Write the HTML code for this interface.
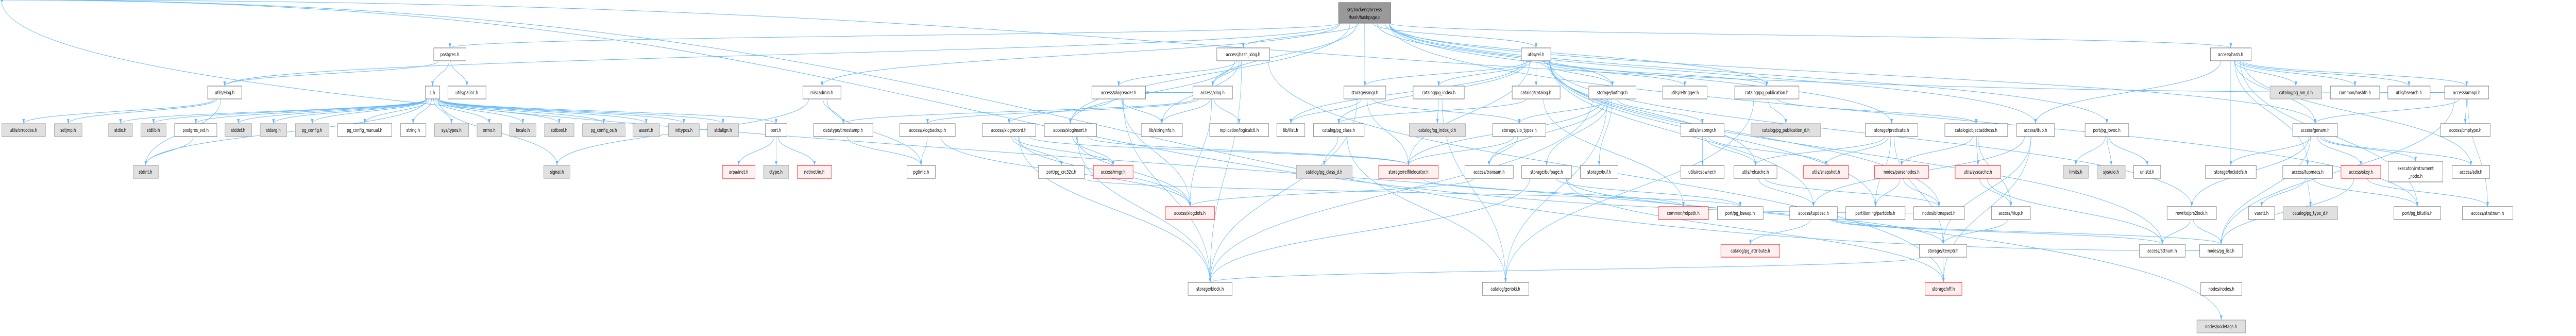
<!DOCTYPE html>
<html><head><meta charset="utf-8"><style>
html,body{margin:0;padding:0;background:#fff;width:100%;height:100%;overflow:hidden;}
svg{display:block;width:100vw;height:100vh;}
text{font-family:"DejaVu Sans","Liberation Sans",sans-serif;font-size:10px;fill:#000;text-anchor:middle;}
.w{fill:#fff;stroke:#666;stroke-width:1;}
.g{fill:#e0e0e0;stroke:#999;stroke-width:1;}
.r{fill:#fff0f0;stroke:#f00;stroke-width:1;}
.t{fill:#999;stroke:#666;stroke-width:1;}
#edges path{fill:none;stroke:#63b8ff;stroke-width:1;}
</style></head><body>
<svg id="s" viewBox="0 0 7257 652" preserveAspectRatio="none" xmlns="http://www.w3.org/2000/svg">
<defs><marker id="a" viewBox="0 0 10 10" refX="10" refY="5" markerWidth="9" markerHeight="9" orient="auto" markerUnits="userSpaceOnUse"><path d="M0,1 L10,5 L0,9 z" fill="#63b8ff"/></marker></defs>
<g id="edges"></g>
<g id="nodes">
<rect id="hp" class="t" x="3771" y="5" width="147" height="40"/>
<text x="3844" y="22">src/backend/access</text><text x="3844" y="37">/hash/hashpage.c</text>

<rect id="postgres" class="w" x="1222" y="93" width="91" height="25"/><text x="1267" y="109">postgres.h</text>
<rect id="hashxlog" class="w" x="3428" y="93" width="149" height="25"/><text x="3502" y="109">access/hash_xlog.h</text>
<rect id="rel" class="w" x="4286" y="93" width="83" height="25"/><text x="4327" y="109">utils/rel.h</text>
<rect id="hash" class="w" x="6227" y="93" width="115" height="25"/><text x="6284" y="109">access/hash.h</text>

<rect id="elog" class="w" x="585" y="167" width="96" height="25"/><text x="633" y="183">utils/elog.h</text>
<rect id="ch" class="w" x="1198" y="167" width="41" height="25"/><text x="1218" y="183">c.h</text>
<rect id="palloc" class="w" x="1262" y="167" width="107" height="25"/><text x="1315" y="183">utils/palloc.h</text>
<rect id="misc" class="w" x="2262" y="167" width="107" height="25"/><text x="2315" y="183">miscadmin.h</text>
<rect id="xlogreader" class="w" x="3076" y="167" width="151" height="25"/><text x="3151" y="183">access/xlogreader.h</text>
<rect id="xlog" class="w" x="3361" y="167" width="111" height="25"/><text x="3416" y="183">access/xlog.h</text>
<rect id="smgr" class="w" x="3786" y="167" width="118" height="25"/><text x="3845" y="183">storage/smgr.h</text>
<rect id="pgindex" class="w" x="3981" y="167" width="144" height="25"/><text x="4053" y="183">catalog/pg_index.h</text>
<rect id="catalog" class="w" x="4260" y="167" width="135" height="25"/><text x="4327" y="183">catalog/catalog.h</text>
<rect id="bufmgr" class="w" x="4476" y="167" width="133" height="25"/><text x="4542" y="183">storage/bufmgr.h</text>
<rect id="reltrig" class="w" x="4684" y="167" width="125" height="25"/><text x="4746" y="183">utils/reltrigger.h</text>
<rect id="pgpub" class="w" x="4887" y="167" width="181" height="25"/><text x="4977" y="183">catalog/pg_publication.h</text>
<rect id="pgamd" class="g" x="6395" y="167" width="146" height="25"/><text x="6468" y="183">catalog/pg_am_d.h</text>
<rect id="hashfn" class="w" x="6565" y="167" width="139" height="25"/><text x="6634" y="183">common/hashfn.h</text>
<rect id="hsearch" class="w" x="6727" y="167" width="119" height="25"/><text x="6786" y="183">utils/hsearch.h</text>
<rect id="amapi" class="w" x="6887" y="167" width="124" height="25"/><text x="6949" y="183">access/amapi.h</text>

<rect id="errcodes" class="g" x="5" y="240" width="123" height="25"/><text x="66" y="256">utils/errcodes.h</text>
<rect id="setjmp" class="g" x="153" y="240" width="78" height="25"/><text x="192" y="256">setjmp.h</text>
<rect id="stdio" class="g" x="306" y="240" width="67" height="25"/><text x="339" y="256">stdio.h</text>
<rect id="stdlib" class="g" x="397" y="240" width="71" height="25"/><text x="432" y="256">stdlib.h</text>
<rect id="pgext" class="w" x="492" y="240" width="119" height="25"/><text x="551" y="256">postgres_ext.h</text>
<rect id="stddef" class="g" x="634" y="240" width="75" height="25"/><text x="671" y="256">stddef.h</text>
<rect id="stdarg" class="g" x="733" y="240" width="75" height="25"/><text x="770" y="256">stdarg.h</text>
<rect id="pgconfig" class="g" x="832" y="240" width="95" height="25"/><text x="879" y="256">pg_config.h</text>
<rect id="pgcm" class="w" x="951" y="240" width="153" height="25"/><text x="1027" y="256">pg_config_manual.h</text>
<rect id="string" class="w" x="1128" y="240" width="72" height="25"/><text x="1164" y="256">string.h</text>
<rect id="systypes" class="g" x="1224" y="240" width="96" height="25"/><text x="1272" y="256">sys/types.h</text>
<rect id="errno" class="g" x="1344" y="240" width="69" height="25"/><text x="1378" y="256">errno.h</text>
<rect id="locale" class="g" x="1436" y="240" width="74" height="25"/><text x="1473" y="256">locale.h</text>
<rect id="stdbool" class="g" x="1534" y="240" width="83" height="25"/><text x="1575" y="256">stdbool.h</text>
<rect id="pgcos" class="g" x="1641" y="240" width="120" height="25"/><text x="1701" y="256">pg_config_os.h</text>
<rect id="assert" class="g" x="1783" y="240" width="75" height="25"/><text x="1820" y="256">assert.h</text>
<rect id="inttypes" class="g" x="1883" y="240" width="87" height="25"/><text x="1926" y="256">inttypes.h</text>
<rect id="stdalign" class="g" x="1993" y="240" width="88" height="25"/><text x="2037" y="256">stdalign.h</text>
<rect id="port" class="w" x="2156" y="240" width="61" height="25"/><text x="2186" y="256">port.h</text>
<rect id="timestamp" class="w" x="2292" y="240" width="167" height="25"/><text x="2375" y="256">datatype/timestamp.h</text>
<rect id="xlogbackup" class="w" x="2535" y="240" width="156" height="25"/><text x="2613" y="256">access/xlogbackup.h</text>
<rect id="xlogrecord" class="w" x="2767" y="240" width="151" height="25"/><text x="2842" y="256">access/xlogrecord.h</text>
<rect id="xloginsert" class="w" x="2942" y="240" width="147" height="25"/><text x="3015" y="256">access/xloginsert.h</text>
<rect id="stringinfo" class="w" x="3215" y="240" width="116" height="25"/><text x="3273" y="256">lib/stringinfo.h</text>
<rect id="logicalctl" class="w" x="3408" y="240" width="166" height="25"/><text x="3491" y="256">replication/logicalctl.h</text>
<rect id="ilist" class="w" x="3597" y="240" width="79" height="25"/><text x="3636" y="256">lib/ilist.h</text>
<rect id="pgclass" class="w" x="3700" y="240" width="143" height="25"/><text x="3771" y="256">catalog/pg_class.h</text>
<rect id="pgindexd" class="g" x="3970" y="240" width="159" height="25"/><text x="4049" y="256">catalog/pg_index_d.h</text>
<rect id="aio" class="w" x="4205" y="240" width="150" height="25"/><text x="4280" y="256">storage/aio_types.h</text>
<rect id="snapmgr" class="w" x="4735" y="240" width="122" height="25"/><text x="4796" y="256">utils/snapmgr.h</text>
<rect id="pgpubd" class="g" x="4933" y="240" width="196" height="25"/><text x="5031" y="256">catalog/pg_publication_d.h</text>
<rect id="predicate" class="w" x="5255" y="240" width="148" height="25"/><text x="5329" y="256">storage/predicate.h</text>
<rect id="objaddr" class="w" x="5479" y="240" width="177" height="25"/><text x="5567" y="256">catalog/objectaddress.h</text>
<rect id="itup" class="w" x="5681" y="240" width="107" height="25"/><text x="5734" y="256">access/itup.h</text>
<rect id="iovec" class="w" x="5874" y="240" width="123" height="25"/><text x="5935" y="256">port/pg_iovec.h</text>
<rect id="genam" class="w" x="6459" y="240" width="126" height="25"/><text x="6522" y="256">access/genam.h</text>
<rect id="cmptype" class="w" x="6875" y="240" width="140" height="25"/><text x="6945" y="256">access/cmptype.h</text>

<rect id="stdint" class="g" x="375" y="321" width="71" height="25"/><text x="410" y="337">stdint.h</text>
<rect id="signal" class="g" x="1532" y="321" width="74" height="25"/><text x="1569" y="337">signal.h</text>
<rect id="arpa" class="r" x="2035" y="321" width="92" height="25"/><text x="2081" y="337">arpa/inet.h</text>
<rect id="ctype" class="g" x="2151" y="321" width="71" height="25"/><text x="2186" y="337">ctype.h</text>
<rect id="netinet" class="r" x="2246" y="321" width="97" height="25"/><text x="2294" y="337">netinet/in.h</text>
<rect id="pgtime" class="w" x="2555" y="321" width="80" height="25"/><text x="2595" y="337">pgtime.h</text>
<rect id="crc" class="w" x="2925" y="321" width="130" height="25"/><text x="2990" y="337">port/pg_crc32c.h</text>
<rect id="rmgr" class="r" x="3080" y="321" width="112" height="25"/><text x="3136" y="337">access/rmgr.h</text>
<rect id="pgclassd" class="g" x="3652" y="321" width="157" height="25"/><text x="3730" y="337">catalog/pg_class_d.h</text>
<rect id="relfile" class="r" x="3884" y="321" width="168" height="25"/><text x="3968" y="337">storage/relfilelocator.h</text>
<rect id="transam" class="w" x="4127" y="321" width="136" height="25"/><text x="4195" y="337">access/transam.h</text>
<rect id="bufpage" class="w" x="4287" y="321" width="140" height="25"/><text x="4357" y="337">storage/bufpage.h</text>
<rect id="buf" class="w" x="4452" y="321" width="106" height="25"/><text x="4505" y="337">storage/buf.h</text>
<rect id="resowner" class="w" x="4735" y="321" width="122" height="25"/><text x="4796" y="337">utils/resowner.h</text>
<rect id="relcache" class="w" x="4885" y="321" width="121" height="25"/><text x="4945" y="337">utils/relcache.h</text>
<rect id="snapshot" class="r" x="5081" y="321" width="126" height="25"/><text x="5144" y="337">utils/snapshot.h</text>
<rect id="parsenodes" class="r" x="5281" y="321" width="152" height="25"/><text x="5357" y="337">nodes/parsenodes.h</text>
<rect id="syscache" class="r" x="5508" y="321" width="128" height="25"/><text x="5572" y="337">utils/syscache.h</text>
<rect id="limits" class="g" x="5813" y="321" width="70" height="25"/><text x="5848" y="337">limits.h</text>
<rect id="uio" class="g" x="5908" y="321" width="79" height="25"/><text x="5947" y="337">sys/uio.h</text>
<rect id="unistd" class="w" x="6011" y="321" width="76" height="25"/><text x="6049" y="337">unistd.h</text>
<rect id="lockdefs" class="w" x="6213" y="321" width="143" height="25"/><text x="6284" y="337">storage/lockdefs.h</text>
<rect id="tupmacs" class="w" x="6431" y="321" width="140" height="25"/><text x="6501" y="337">access/tupmacs.h</text>
<rect id="skey" class="r" x="6595" y="321" width="112" height="25"/><text x="6651" y="337">access/skey.h</text>
<rect id="instr" class="w" x="6728" y="313" width="154" height="40"/><text x="6805" y="330">executor/instrument</text><text x="6805" y="345">_node.h</text>
<rect id="sdir" class="w" x="6908" y="321" width="106" height="25"/><text x="6961" y="337">access/sdir.h</text>

<rect id="xlogdefs" class="r" x="3283" y="401" width="139" height="25"/><text x="3352" y="417">access/xlogdefs.h</text>
<rect id="relpath" class="r" x="4672" y="401" width="141" height="25"/><text x="4742" y="417">common/relpath.h</text>
<rect id="bswap" class="w" x="4838" y="401" width="129" height="25"/><text x="4902" y="417">port/pg_bswap.h</text>
<rect id="tupdesc" class="w" x="5042" y="401" width="134" height="25"/><text x="5109" y="417">access/tupdesc.h</text>
<rect id="partdefs" class="w" x="5200" y="401" width="167" height="25"/><text x="5283" y="417">partitioning/partdefs.h</text>
<rect id="bitmapset" class="w" x="5391" y="401" width="143" height="25"/><text x="5462" y="417">nodes/bitmapset.h</text>
<rect id="htup" class="w" x="5610" y="401" width="110" height="25"/><text x="5665" y="417">access/htup.h</text>
<rect id="prs2lock" class="w" x="6105" y="401" width="139" height="25"/><text x="6174" y="417">rewrite/prs2lock.h</text>
<rect id="varatt" class="w" x="6335" y="401" width="73" height="25"/><text x="6371" y="417">varatt.h</text>
<rect id="pgtyped" class="g" x="6432" y="401" width="154" height="25"/><text x="6509" y="417">catalog/pg_type_d.h</text>
<rect id="bitutils" class="w" x="6744" y="401" width="132" height="25"/><text x="6810" y="417">port/pg_bitutils.h</text>
<rect id="stratnum" class="w" x="6937" y="401" width="142" height="25"/><text x="7008" y="417">access/stratnum.h</text>

<rect id="pgattr" class="r" x="4848" y="474" width="166" height="25"/><text x="4931" y="490">catalog/pg_attribute.h</text>
<rect id="itemptr" class="w" x="5407" y="474" width="134" height="25"/><text x="5474" y="490">storage/itemptr.h</text>
<rect id="attnum" class="w" x="6027" y="474" width="129" height="25"/><text x="6091" y="490">access/attnum.h</text>
<rect id="pglist" class="w" x="6197" y="474" width="121" height="25"/><text x="6257" y="490">nodes/pg_list.h</text>

<rect id="block" class="w" x="3347" y="548" width="124" height="25"/><text x="3409" y="564">storage/block.h</text>
<rect id="genbki" class="w" x="4176" y="548" width="131" height="25"/><text x="4241" y="564">catalog/genbki.h</text>
<rect id="off" class="r" x="5423" y="548" width="104" height="25"/><text x="5475" y="564">storage/off.h</text>
<rect id="nodes" class="w" x="6200" y="548" width="116" height="25"/><text x="6258" y="564">nodes/nodes.h</text>

<rect id="nodetags" class="g" x="6189" y="621" width="137" height="25"/><text x="6257" y="637">nodes/nodetags.h</text>
</g>
</svg>
<script>
(function(){
var E="hp>postgres hp>hash hp>hashxlog hp>misc hp>rel hp>smgr hp>predicate hp>bufmgr hp>xlog hp>xloginsert hp>genam hp>pgpub hp>itup hp>iovec hp>bitutils hp>elog "+
"postgres>ch postgres>palloc postgres>elog elog>errcodes elog>setjmp elog>stdint "+
"ch>stdio ch>stdlib ch>pgext ch>stddef ch>stdarg ch>pgconfig ch>pgcm ch>string ch>systypes ch>errno ch>locale ch>stdbool ch>pgcos ch>assert ch>inttypes ch>stdalign ch>port ch>stdint ch>signal "+
"pgext>stdint port>arpa port>ctype port>netinet misc>signal misc>timestamp misc>pgtime timestamp>pgtime "+
"hashxlog>xlogreader hashxlog>stringinfo hashxlog>xlog hashxlog>xloginsert hashxlog>off hashxlog>block "+
"xlogreader>xlogrecord xlogreader>xlogdefs xlogreader>block xlogreader>stringinfo "+
"xlog>xlogbackup xlog>stringinfo xlog>logicalctl xlog>xlogdefs xlog>timestamp xlog>xlogreader "+
"xlogbackup>pgtime xlogbackup>xlogdefs xlogrecord>crc xlogrecord>rmgr xlogrecord>xlogdefs xlogrecord>block xlogrecord>relfile "+
"xloginsert>rmgr xloginsert>xlogdefs xloginsert>block xloginsert>relfile crc>bswap "+
"rel>smgr rel>pgindex rel>catalog rel>bufmgr rel>reltrig rel>pgclass rel>relfile rel>pgpub rel>relcache rel>ilist rel>tupdesc rel>partdefs rel>bitmapset rel>attnum rel>prs2lock "+
"smgr>ilist smgr>relfile smgr>aio smgr>block pgindex>pgindexd pgindex>genbki catalog>pgclass catalog>relpath "+
"bufmgr>aio bufmgr>snapmgr bufmgr>relfile bufmgr>transam bufmgr>bufpage bufmgr>buf bufmgr>block bufmgr>genbki "+
"pgclass>pgclassd pgclass>genbki aio>relfile aio>transam snapmgr>resowner snapmgr>snapshot snapmgr>relcache relfile>relpath "+
"bufpage>block bufpage>off bufpage>itemptr bufpage>bswap transam>xlogdefs "+
"pgpub>pgpubd pgpub>objaddr pgpub>genbki predicate>snapshot predicate>relcache predicate>partdefs predicate>itemptr "+
"objaddr>parsenodes objaddr>syscache objaddr>htup itup>tupdesc itup>itemptr itup>off iovec>limits iovec>uio iovec>unistd "+
"relcache>tupdesc relcache>bitmapset parsenodes>partdefs parsenodes>bitmapset syscache>htup syscache>attnum htup>itemptr "+
"tupdesc>pgattr tupdesc>attnum tupdesc>pglist itemptr>off itemptr>block "+
"hash>pgamd hash>hashfn hash>hsearch hash>amapi hash>genam hash>lockdefs hash>sdir hash>bitutils hash>itup hash>tupmacs "+
"amapi>genam amapi>cmptype amapi>stratnum amapi>pglist amapi>nodes genam>lockdefs genam>skey genam>instr genam>sdir genam>prs2lock genam>pglist "+
"tupmacs>varatt tupmacs>pgtyped tupmacs>bitutils skey>stratnum skey>pglist prs2lock>attnum prs2lock>pglist pglist>nodes nodes>nodetags bitmapset>nodes";
var g=document.getElementById("edges"),ns="http://www.w3.org/2000/svg";
function b(id){var r=document.getElementById(id);var x=+r.getAttribute("x"),y=+r.getAttribute("y"),w=+r.getAttribute("width"),h=+r.getAttribute("height");return{x:x,y:y,w:w,h:h,cx:x+w/2,cy:y+h/2};}
E.split(" ").forEach(function(e){var p=e.split(">");var s=b(p[0]),t=b(p[1]);var d;
if(t.y>s.y+s.h){var sx=s.cx+Math.max(-s.w/2+4,Math.min(s.w/2-4,(t.cx-s.cx)*0.05)),sy=s.y+s.h,tx=t.cx,ty=t.y,my=(sy+ty)/2;
d="M"+sx+","+sy+" C"+sx+","+my+" "+tx+","+my+" "+tx+","+ty;}
else{var right=t.cx>s.cx;var sx=right?s.x+s.w:s.x,sy=s.cy,tx=right?t.x:t.x+t.w,ty=t.cy;var mx=(sx+tx)/2;
d="M"+sx+","+sy+" C"+mx+","+sy+" "+mx+","+ty+" "+tx+","+ty;}
var pa=document.createElementNS(ns,"path");pa.setAttribute("d",d);pa.setAttribute("marker-end","url(#a)");g.appendChild(pa);});
})();
</script>
</body></html>
